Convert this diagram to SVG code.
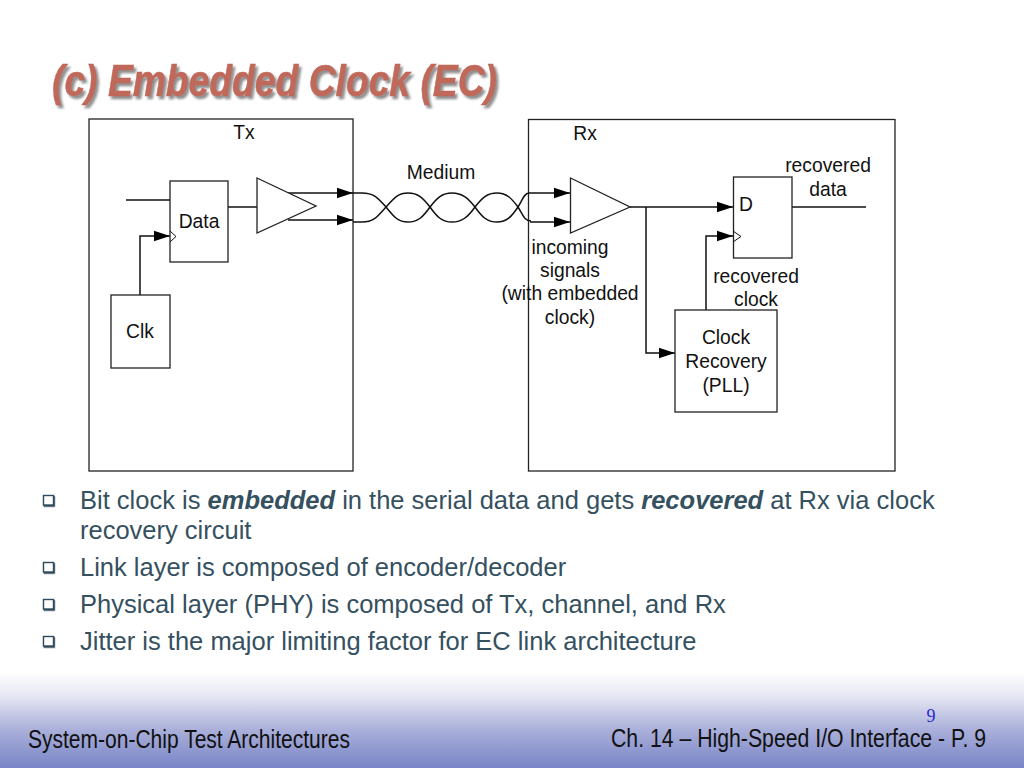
<svg xmlns="http://www.w3.org/2000/svg" width="1024" height="768" viewBox="0 0 1024 768">
<defs>
<linearGradient id="band" x1="0" y1="0" x2="0" y2="1"><stop offset="0" stop-color="#ffffff"/><stop offset="0.25" stop-color="#e6e7f3"/><stop offset="0.6" stop-color="#aab0da"/><stop offset="1" stop-color="#7884c6"/></linearGradient>
<filter id="sh" x="-5%" y="-20%" width="110%" height="140%"><feDropShadow dx="2.5" dy="3" stdDeviation="0.8" flood-color="#8f8f8f"/></filter>
<filter id="bs" x="-30%" y="-30%" width="160%" height="160%"><feDropShadow dx="0.8" dy="1.2" stdDeviation="0.4" flood-color="#2f4a5c"/></filter>
<marker id="a" markerUnits="userSpaceOnUse" markerWidth="16" markerHeight="12" refX="15" refY="5" viewBox="0 0 15 10" orient="auto"><path d="M0 0L15 5L0 10Z" fill="#000"/></marker>
</defs>
<style>
text{font-family:"Liberation Sans",Arial,sans-serif}
.b{fill:#fff;stroke:#222;stroke-width:1.3}
.w{fill:none;stroke:#111;stroke-width:1.5}
.ar{marker-end:url(#a)}
.t{font-size:19.300px;fill:#111;text-anchor:middle}
.p{font-size:25.500px;fill:#35505f}
.m{fill:#fff;stroke:#2f4a5c;stroke-width:1.4}
.f{font-size:25px;fill:#111}
</style>
<rect x="0" y="672" width="1024" height="96" fill="url(#band)"/>
<g id="title"><text x="52" y="96" font-size="45" font-weight="bold" font-style="italic" fill="#c0695a" stroke="#c0695a" stroke-width="0.5" textLength="445" lengthAdjust="spacingAndGlyphs" filter="url(#sh)">(c) Embedded Clock (EC)</text></g>
<g id="tx"><rect class="b" x="89" y="119" width="264" height="352" fill="none"/><text class="t" x="244" y="139">Tx</text></g>
<g id="rx"><rect class="b" x="528.5" y="119.500" width="366.500" height="351.500"/><text class="t" x="585" y="140">Rx</text></g>
<g id="connectors">
<path class="w" d="M126 200H170"/>
<path class="w ar" d="M140 295V236H170"/>
<path class="w" d="M228 207H257"/>
<path class="w ar" d="M286 193H353"/>
<path class="w ar" d="M288 220H353"/>
<path class="w" d="M353 193H362C374 193 378 198 386 207C394 217 398 222 408 222C418 222 423 217 430 207C437 198 442 193 452 193C462 193 468 198 475 207C482 217 487 222 497 222C507 222 512 216 518 207C522 201 524 193 529 193"/>
<path class="w" d="M353 222H362C374 222 378 216 386 207C394 198 398 193 408 193C418 193 423 198 430 207C437 217 442 222 452 222C462 222 468 217 475 207C482 198 487 193 497 193C507 193 512 199 518 207C522 213 524 221 531 221"/>
<path class="w ar" d="M528 193H570"/>
<path class="w ar" d="M530 222H570"/>
<path class="w ar" d="M630 207H733"/>
<path class="w ar" d="M646 207V353H675"/>
<path class="w ar" d="M706 310V236H733"/>
<path class="w" d="M792 207H866"/>
</g>
<g id="data"><rect class="b" x="170" y="181" width="58" height="81"/><path class="w" style="stroke-width:1" d="M170 231L176 236.500L170 242"/><text class="t" x="199" y="228">Data</text></g>
<g id="clk"><rect class="b" x="111" y="295" width="59" height="73"/><text class="t" x="140" y="338">Clk</text></g>
<g id="tx-buffer"><path class="b" d="M257 178L316 206L257 233Z"/></g>
<g id="rx-buffer"><path class="b" d="M570.500 178L630 207L570.500 233Z"/></g>
<g id="flipflop"><rect class="b" x="733.500" y="177" width="58.500" height="81"/><path class="w" style="stroke-width:1" d="M733 231L741 236.500L733 242"/><text class="t" x="746" y="211">D</text></g>
<g id="clock-recovery"><rect class="b" x="675" y="310" width="102" height="102"/><text class="t" x="726" y="344">Clock</text><text class="t" x="726" y="368">Recovery</text><text class="t" x="726" y="392">(PLL)</text></g>
<g id="labels">
<text class="t" x="441" y="178.500">Medium</text>
<text class="t" x="828" y="172">recovered</text><text class="t" x="828" y="196">data</text>
<text class="t" x="756" y="283">recovered</text><text class="t" x="756" y="306">clock</text>
<text class="t" x="570" y="254">incoming</text><text class="t" x="570" y="277">signals</text><text class="t" x="570" y="300">(with embedded</text><text class="t" x="570" y="324">clock)</text>
</g>
<g id="bullets">
<rect class="m" x="43.500" y="495.500" width="10" height="9.500" filter="url(#bs)"/>
<rect class="m" x="43.500" y="562.500" width="10" height="9.500" filter="url(#bs)"/>
<rect class="m" x="43.500" y="599.500" width="10" height="9.500" filter="url(#bs)"/>
<rect class="m" x="43.500" y="636.500" width="10" height="9.500" filter="url(#bs)"/>
<text class="p" x="80" y="508.500">Bit clock is <tspan font-weight="bold" font-style="italic">embedded</tspan> in the serial data and gets <tspan font-weight="bold" font-style="italic">recovered</tspan> at Rx via clock</text>
<text class="p" x="80" y="538.500">recovery circuit</text>
<text class="p" x="80" y="575.500">Link layer is composed of encoder/decoder</text>
<text class="p" x="80" y="612.500">Physical layer (PHY) is composed of Tx, channel, and Rx</text>
<text class="p" x="80" y="649.500">Jitter is the major limiting factor for EC link architecture</text>
</g>
<g id="footer">
<text class="f" x="28" y="748" textLength="322" lengthAdjust="spacingAndGlyphs">System-on-Chip Test Architectures</text>
<text class="f" transform="translate(611 747) scale(.85 1)">Ch. 14 – High-Speed I/O Interface - P. 9</text>
<text x="931" y="722" font-size="18" fill="#2a2ad0" text-anchor="middle" style="font-family:'Liberation Serif',serif">9</text>
</g>
</svg>
